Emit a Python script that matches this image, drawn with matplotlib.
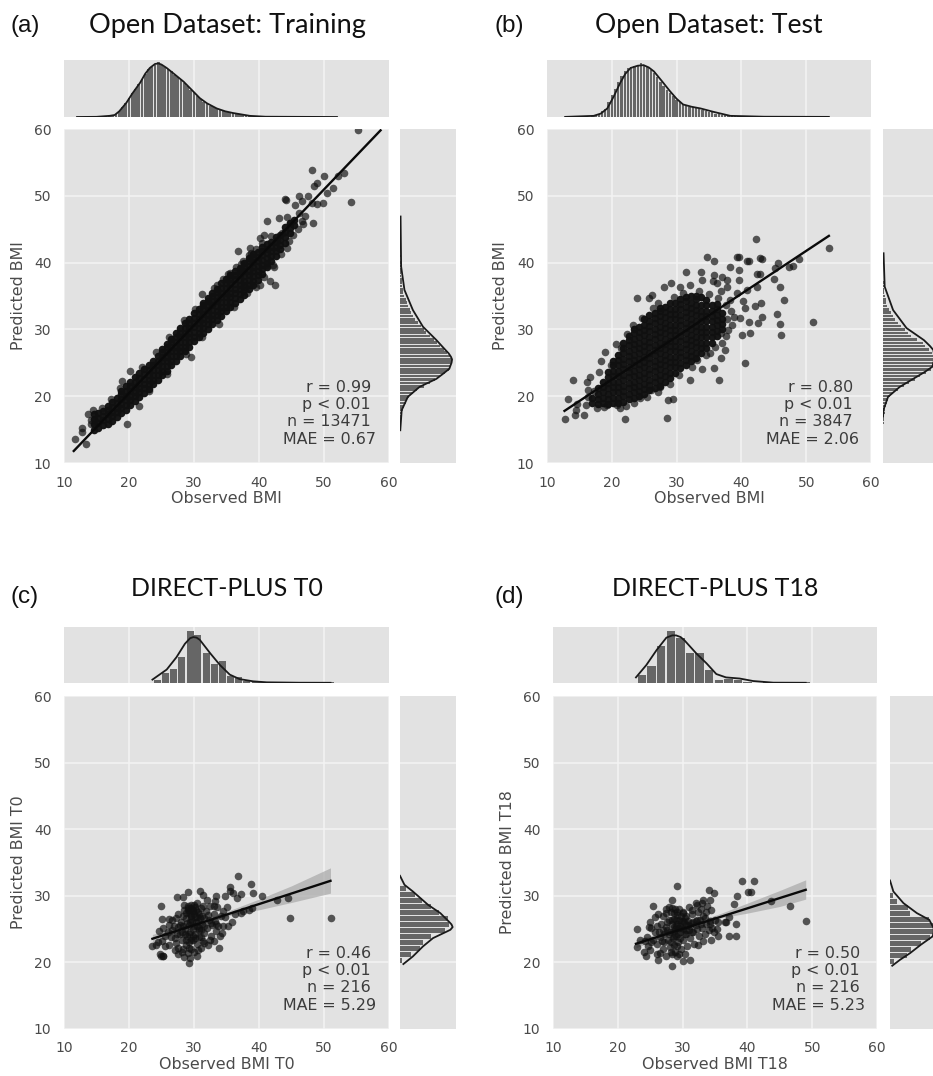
import matplotlib
matplotlib.use("Agg")
import matplotlib.pyplot as plt

plt.rcParams["font.family"] = ["DejaVu Sans"]

W, H = 933, 1076

# ---------- dense band of panel a: observed value and the predicted values stacked at it
a_x = [14.6,15.3,16.0,16.7,17.4,18.1,18.8,19.5,20.2,20.9,21.6,22.3,23.0,23.7,24.4,25.1,25.8,26.5,27.2,27.9,28.6,29.3,30.0,30.7,31.4,32.1,32.8,33.5,34.2,34.9,35.6,36.3,37.0,37.7,38.4,39.1,39.8,40.5,41.2,41.9,42.6,43.3,44.0,44.7,45.4]
a_y = [[15.0,15.8,16.6,17.4],[15.2,16,16.8,17.5],[15.7,16.4,17.1,17.8],[15.9,16.6,17.3,18,18.6],[16.3,17,17.7,18.4,19.1],[16.9,17.6,18.3,19,19.7],[17.5,18.2,18.9,19.6,20.3,20.8],[18,18.7,19.4,20.1,20.8,21.5],[18.7,19.4,20.1,20.8,21.5,22.1],[19.3,20,20.7,21.4,22.1,22.8],[19.9,20.6,21.3,22,22.7,23.4],[20.5,21.2,21.9,22.6,23.3,24],[21.1,21.8,22.5,23.2,23.9,24.6],[21.8,22.5,23.2,23.9,24.6,25.3],[22.5,23.2,23.9,24.6,25.3,26],[23.1,23.8,24.5,25.2,25.9,26.6,27],[23.8,24.5,25.2,25.9,26.6,27.3,27.8],[24.6,25.3,26,26.7,27.4,28.1,28.6],[25.3,26,26.7,27.4,28.1,28.8,29.5],[26,26.7,27.4,28.1,28.8,29.5,30.2],[26.7,27.4,28.1,28.8,29.5,30.2,30.9],[27.4,28.1,28.8,29.5,30.2,30.9,31.6],[28.2,28.9,29.6,30.3,31,31.7,32.4],[28.8,29.5,30.2,30.9,31.6,32.3,33],[29.5,30.2,30.9,31.6,32.3,33,33.6,34],[30.1,30.8,31.5,32.2,32.9,33.6,34.3,34.7],[30.8,31.5,32.2,32.9,33.6,34.3,35,35.4],[31.4,32.1,32.8,33.5,34.2,34.9,35.6,36.1],[32,32.7,33.4,34.1,34.8,35.5,36.2,36.9],[32.7,33.4,34.1,34.8,35.5,36.2,36.9,37.6],[33.4,34.1,34.8,35.5,36.2,36.9,37.6,38.2],[34,34.7,35.4,36.1,36.8,37.5,38.2,38.7],[34.6,35.3,36,36.7,37.4,38.1,38.8,39.2],[35.2,35.9,36.6,37.3,38,38.7,39.4,39.9],[36,36.7,37.4,38.1,38.8,39.5,40.2,40.7],[36.6,37.3,38,38.7,39.4,40.1,40.8,41.3],[37.4,38.1,38.8,39.5,40.2,40.9,41.6],[38.3,39,39.7,40.4,41.1,41.8,42.4],[39.3,40,40.7,41.4,42.1,42.8],[40.3,41,41.7,42.4,43.1],[41,41.7,42.4,43.1,43.8],[42,42.7,43.4,44.2],[43,43.8,44.6,45.4],[44.4,45.2,46],[45.6,46.4]]
a_outliers = [(11.7,13.6),(13.4,12.8),(12.8,15.2),(12.7,14.7),(19.7,15.8),(55.3,59.9),(48.2,53.8),(50,52.9),(54.2,49.1),(53,53.4),(52.2,52.9),(51.4,51.2),(50.4,50.4),(48.9,51.9),(48.4,51.5),(44,49.5),(44.2,49.3),(46.1,49.9),(46.6,49.2),(47.6,49.9),(48.1,48.9),(49.9,48.9),(48.9,48.8),(46.6,46.2),(46.7,45.8),(48.3,46),(41.2,46.2),(43,46.7),(44.3,46.9),(44.8,45.9),(45.3,44.1),(44.3,42.2),(41.7,37.2),(42.5,36.7),(42.3,39.4),(36.7,41.8),(37.8,36.4),(31.2,35.3),(29.5,25.8),(21.6,18.5),(20.2,23.7),(18.9,22.3),(14.5,17.9),(13.7,17.4),(43.5,44.4),(42.7,43.4),(40.7,44.2),(40.2,43.7),(38.6,42.2),(41.3,39.6),(39.6,36.4),(46.2,47.5),(45.6,48.6),(47,47),
(14.2,16.4),(14.1,15.8),(15.8,18.3),(17.3,19.6),(18.6,21.3),(22,24.3),(24.2,26.6),(26.2,28.9),(28.4,31.4),(30.2,33.1),(33.1,36.2),(35.2,38.3),(37.3,39.8),(38.7,41.4),(23.1,20.8),(25.9,23.3),(28.8,26.3),(31.2,28.8),(33.8,30.8),(36.2,33.3),(38.2,35.4),(40.1,36.7),(40.8,37.9),(42.2,39.6),(43.4,41.3),(41.8,44),(44.6,43.2),(46,45),
(33.5,36.6),(34.5,37.6),(35.5,38.4),(36.5,39.3),(37.5,40.2),(38.5,41.2),(39.5,42),(40.5,42.9)]

# ---------- dense blob of panel b
b_x = [17.0,17.8,18.6,19.4,20.2,21.0,21.8,22.6,23.4,24.2,25.0,25.8,26.6,27.4,28.2,29.0,29.8,30.6,31.4,32.2,33.0,33.8,34.6,35.4,36.2,37.0]
b_y = [[19,19.8],[18.8,19.6,20.4,21.2],[19,19.8,20.6,21.4,22.2],[18.8,19.6,20.4,21.2,22,22.8,23.6],[19,19.8,20.6,21.4,22.2,23,23.8,24.6,25.3],[19,19.8,20.6,21.4,22.2,23,23.8,24.6,25.4,26.2],[19.2,20,20.8,21.6,22.4,23.2,24,24.8,25.6,26.4,27.2,28],[19.6,20.4,21.2,22,22.8,23.6,24.4,25.2,26,26.8,27.6,28.4,29],[19.8,20.6,21.4,22.2,23,23.8,24.6,25.4,26.2,27,27.8,28.6,29.4,30],[20,20.8,21.6,22.4,23.2,24,24.8,25.6,26.4,27.2,28,28.8,29.6,30.4],[20.3,21.1,21.9,22.7,23.5,24.3,25.1,25.9,26.7,27.5,28.3,29.1,29.9,30.7,31.5],[20.9,21.7,22.5,23.3,24.1,24.9,25.7,26.5,27.3,28.1,28.9,29.7,30.5,31.3,32.1],[21.3,22.1,22.9,23.7,24.5,25.3,26.1,26.9,27.7,28.5,29.3,30.1,30.9,31.7,32.5],[21.6,22.4,23.2,24,24.8,25.6,26.4,27.2,28,28.8,29.6,30.4,31.2,32,32.8,33.2],[22.2,23,23.8,24.6,25.4,26.2,27,27.8,28.6,29.4,30.2,31,31.8,32.6,33.4],[22.7,23.5,24.3,25.1,25.9,26.7,27.5,28.3,29.1,29.9,30.7,31.5,32.3,33.1,33.9],[23.5,24.3,25.1,25.9,26.7,27.5,28.3,29.1,29.9,30.7,31.5,32.3,33.1,34],[24.2,25,25.8,26.6,27.4,28.2,29,29.8,30.6,31.4,32.2,33,33.8,34.6],[24.6,25.4,26.2,27,27.8,28.6,29.4,30.2,31,31.8,32.6,33.4,34.2,34.8],[25.2,26,26.8,27.6,28.4,29.2,30,30.8,31.6,32.4,33.2,34,35],[25.7,26.5,27.3,28.1,28.9,29.7,30.5,31.3,32.1,32.9,33.7,34.5,35],[26.4,27.2,28,28.8,29.6,30.4,31.2,32,32.8,33.6,34.8],[27.2,28,28.8,29.6,30.4,31.2,32,32.8,33.6,34.4],[28,28.8,29.6,30.4,31.2,32,32.8,33.6],[29,29.8,30.6,31.4,32.2,33,33.8],[30,30.8,31.6,32.4]]
b_outliers = [(12.8,16.6),(13.2,19.6),(14,22.4),(16.2,22.2),(16.7,22.8),(18,23.6),(18.4,25.3),(19,26.6),(20.6,27.8),(22,16.6),(28.5,16.8),(28.7,19.5),(29.4,19.6),(32,22.4),(36.5,22.4),(40.6,24.9),(33.9,24),(35.7,24.2),(36.9,25.7),(37.5,26.9),(53.5,42.2),(51,31.1),(42.2,43.6),(34.7,40.8),(35.8,40.2),(31.5,38.6),(33.8,38.6),(38.3,39.4),(39.3,40.8),(39.6,40.8),(40.9,40.2),(41.1,40.3),(43.2,40.6),(42.9,40.7),(39.7,38.9),(39.7,37.4),(42.4,38.3),(42.9,38.3),(45.7,39.9),(45.2,39.2),(47.3,39.4),(47.9,39.5),(48.9,40.5),(45,37.5),(45.9,36.3),(46.5,34.4),(45.5,32.3),(45.9,30.8),(46.1,29.2),(43.2,31.9),(42.6,30.9),(41.1,31.1),(41.3,29.4),(40.1,29.2),(43,34),(40.3,34.2),(42.1,33.5),(40.6,33.2),(40.9,35.9),(42.4,36.4),(23.9,34.7),(25.7,34.7),(26.2,35.2),(28,36.4),(29.1,36.9),(30.6,36.4),(32.1,36.6),(33.9,37.4),(35.7,38.2),(37,37.9),(37.8,37.4),(35.6,37.2),(36.2,36.9),(37.8,36.4),(39.3,35.4),(36.8,35.7),(38.3,34.4),(38.8,31.9),(39.8,31.7),(37.8,31.6),(38,29.9),(36.8,29.4),(37,27.9),(35.2,26.4),(33.1,25.4),(14.6,18.9),(14.4,17.9),(14.3,17.2),(15.7,17.2),(16,18.7),(16.3,19.9),(17.7,18.3),(19.3,18.7),(20.8,18.7),(22.2,18.5),(24.3,19.7),(25.4,19.9),(27.5,21.4),(26,20.9),
(19.8,24.6),(21.4,27.2),(22.4,29.3),(23.2,30.6),(24.6,31.7),(26.4,33.2),(27.2,33.9),(29.6,34.9),(31,35.5),(33.4,35.8),(35,35.3),(36.4,34.7),(37.6,33.6),(38.4,32.8),(38.6,30.6),(37.6,29),(36,27.4),(34.6,26.2),(32.4,24.4),(30.4,23.2),(29,21.8),(27.2,20.6),(23.4,19),(21.2,18.2),(18.8,18.4),(17.2,20.8),(16.4,21)]

# ---------- points of panels c and d
c_points = [(36.7,32.9),(38.8,31.8),(29.1,30.6),(30.9,30.65),(27.4,29.75),(28.3,29.75),(24.9,28.4),(25.1,26.5),(26.1,26.5),(39.1,30.4),(40.4,30),(35.5,31.3),(35.6,30.65),(36,30.4),(37.3,30.3),(36.6,29.65),(34.8,30),(33.4,29.9),(33.2,29.15),(31.4,30.15),(32,29.4),(42.7,29.3),(44.5,29.65),(44.8,26.7),(51,26.7),(38.9,28.15),(38.4,27.9),(37.2,27.4),(35.8,26),(33.8,22.15),(23.6,22.5),(29.3,19.9),(29.4,20.65),(30.4,20.9),(28.4,20.75),(24.9,20.9),(25.3,20.9),(24.7,21.3),(25.2,21),
(24.5,23.1),(24.6,24.7),(25.2,25.1),(25.5,24),(26,24.5),(26.1,22.6),(26.6,26.3),(27,23.6),(27,21.8),(27.3,22.9),(27.5,25.3),(27.6,27.2),(27.8,24.2),(28,26),(28.1,21.6),(28.2,23.4),(28.3,27),(28.5,28.6),(28.6,25),(28.7,22.6),(28.8,26.7),(28.9,24),(29,27.8),(29,21.4),(29.1,28.4),(29.2,25.6),(29.3,23),(29.4,27.2),(29.4,24.6),(29.5,28.1),(29.6,22),(29.7,26.2),(29.8,27.7),(29.8,25),(29.9,23.4),(30,28.6),(30,21.6),(30.1,26.8),(30.2,24.3),(30.3,27.9),(30.4,25.5),(30.5,22.8),(30.5,28.9),(30.6,26.2),(30.7,23.8),(30.8,27.2),(31,24.9),(31,22.2),(31.1,28.2),(31.2,25.8),(31.4,23.2),(31.5,26.7),(31.6,24.4),(31.8,27.7),(32,25.2),(32.1,22.6),(32.3,26.4),(32.4,28.4),(32.6,24),(32.8,25.6),(33,27.2),(33,23.2),(33.2,26.2),(33.4,24.7),(33.6,28.3),(33.7,25.5),(34,24),(34.1,26.9),(34.3,24.4),(34.5,27.7),(34.8,26.8),(35,28.3),(35.2,25.4),(36.3,27.2),(37.5,27.7),(29.6,26.9),(30.9,26.6),(29.4,26),(30.3,26),(28.4,27.9),(30,27.3),(28.6,24.2),(31.6,25.5),(32.6,25.9),(26.9,25.5),(27.9,25.6),(29.8,24),(30.7,24.8),
(29,28.2),(29.6,28.6),(30.2,28.3),(29.3,27.6),(29.9,27.9),(30.6,27.6),(28.8,27.4),(29.5,26.5),(30.4,26.8),(31.2,27),(28.9,25.9),(28.3,25.4),(30,25.4),(30.8,25.2),(29.2,24.2),(30.2,23.7),(29.6,23.3),(28.8,23.4),(31.1,23.8),(28.2,24.6),(27.4,24.3),(26.6,24.9),(26.4,23.8),(25.6,22.4),(27.6,22.2),(28.3,22),(30.6,21.8),(29.2,22.2),(31.6,22.9),(32.4,23.4),(33.4,25.8),(32.2,27.1),(31.4,28.4),(34.4,25.4),(33,28.4),(27.2,26.6),(26.2,25.6),(25,23.2),(24.2,22.6),(27.5,21.2)]
d_points = [(29.1,31.4),(39.1,32.15),(41,32.15),(34.1,30.9),(34.8,30.4),(38.4,30),(40.1,30.5),(40.6,30.55),(37.9,28.8),(43.7,29.25),(46.6,28.5),(49.1,26.25),(25.4,28.4),(28.4,29.4),(22.9,25),(22.9,22.25),(38.3,25.75),(37.2,24),(38.2,23.9),(35.5,24),(36.7,26),(34.4,27.9),(34.3,29.3),(33.1,29.4),(32.4,22.65),(34.4,23.4),(33.1,23.25),(31.2,20.4),(30.1,20.15),(28.4,19.5),(26.2,20.3),(36.5,26.1),(37.2,26.8),
(23.5,23.3),(24,21.5),(24.3,21),(24.5,23.8),(24.8,25.3),(24.9,21.8),(25,26),(25.2,25.2),(25.5,23.4),(25.8,26.8),(26,22.7),(26.2,27.3),(26.3,24.5),(26.5,21.4),(26.7,25.7),(26.8,23.2),(27,27),(27,22),(27.2,24.2),(27.4,28),(27.5,25.3),(27.5,21),(27.7,23.4),(27.9,26.4),(27.9,28.3),(28,22.3),(28.1,24.6),(28.2,27.5),(28.3,25.7),(28.4,21.2),(28.5,23.7),(28.6,26.5),(28.7,22.6),(28.8,28),(28.9,25),(29,24),(29.1,27.1),(29.1,21),(29.2,25.8),(29.3,23),(29.4,26.3),(29.5,28),(29.6,24.6),(29.7,22),(29.8,26.9),(29.9,25.2),(30,23.4),(30.1,27.6),(30.2,26),(30.3,21.2),(30.4,24.3),(30.5,25.6),(30.6,27),(30.7,22.5),(30.8,26.2),(31,24.9),(31,28.3),(31.2,23.6),(31.3,25.9),(31.5,27.2),(31.6,24.5),(31.8,22.8),(32,26.2),(32,28.9),(32.2,25),(32.4,27.6),(32.5,24),(32.7,26.3),(32.9,28),(33,25.2),(33.2,27),(33.4,24.3),(33.6,25.8),(33.8,28.4),(34,24.8),(34.2,26.2),(34.5,25.2),(35,26.3),(35.3,25),(29.6,25.5),(30,26.2),(29,25.4),(30.4,26.6),(28.7,24.7),(31.1,25.5),(27.6,24.9),(29.3,24.2),(30.6,24.9),(32.2,26.4),(26.1,25.4),(28.2,23),(28.4,28.1),
(28.6,25.3),(29.4,25.2),(30.1,25),(30.8,25.6),(31.6,26),(29.8,26.2),(29,26.4),(28.3,26.3),(27.6,26),(27.9,24.2),(28.7,24),(29.6,23.7),(30.5,24.3),(31.4,24.6),(32,25.6),(32.8,25.7),(33.4,26.7),(28.2,21.6),(28.9,21.5),(29.4,21.2),(29.1,22.4),(27.2,23),(26.5,23.8),(25.8,24.6),(25.2,23),(24.2,23.2),(24.6,22.4),(26,21.3),(26.9,24.8),(27.4,27.4),(33,28.9),(32.2,28.6),(31.4,27.8),(30,27.4),(29.2,27.6),(28.6,27.4),(33.6,27.6),(34.3,25.8),(35.4,26.1),(34.9,24.6)]

# ---------- regression lines and confidence bands
line_a_x, line_a_y = [11.5, 58.7], [11.8, 59.8]
line_b_x, line_b_y = [12.7, 53.5], [17.8, 44.0]
line_c_x, line_c_y = [23.6, 51.0], [23.55, 32.25]
line_d_x, line_d_y = [22.8, 49.0], [22.8, 30.9]
band_c_x = [23.6, 30, 36, 40, 45, 51]
band_c_lo = [22.9, 25.3, 27.2, 27.9, 29.0, 30.4]
band_c_hi = [24.2, 25.9, 28.0, 29.5, 31.5, 34.2]
band_d_x = [22.8, 30, 36, 40, 45, 49]
band_d_lo = [22.2, 24.9, 26.7, 27.4, 28.4, 29.5]
band_d_hi = [23.4, 25.4, 27.4, 28.9, 30.8, 32.4]

# ---------- marginal curves
kde_top_a_x = [12,15,17,17.8,18.5,19.6,20.5,21.7,22.5,23.2,24,24.5,25,25.8,27,28.4,29.7,30.9,32,33.5,34.8,36,38.6,41,45,52]
kde_top_a_y = [0,.003,.02,.035,.1,.25,.41,.6,.76,.86,.93,.94,.92,.86,.75,.62,.47,.33,.24,.15,.1,.07,.02,.005,.003,0]
kde_top_b_x = [12.8,17.2,18.3,19.3,20.3,21.3,22.1,22.9,24,24.9,25.7,26.5,27.8,29,30,31,32.3,33.7,35.7,38.3,43.5,53.5]
kde_top_b_y = [.002,.02,.06,.15,.36,.6,.76,.86,.9,.91,.87,.8,.62,.45,.32,.22,.18,.15,.09,.02,.005,.002]
kde_top_c_x = [23.6,25.8,27.3,28.6,29.4,29.9,30.4,30.9,31.7,32.5,34,35.5,37,39.1,41.2,46.3,51]
kde_top_c_y = [.06,.24,.46,.7,.8,.82,.81,.77,.65,.53,.32,.15,.07,.03,.012,.005,.004]
kde_top_d_x = [22.8,24.4,26,27.5,28.4,29,29.7,30.3,32.1,33.7,35.2,36.7,38.8,40.9,44,49]
kde_top_d_y = [.1,.32,.59,.81,.85,.85,.82,.76,.53,.35,.16,.1,.08,.035,.006,.004]
kde_right_a_y = [46.9,39.4,35.9,32.9,30.4,28.4,27.3,26.4,25.9,25.5,25,24.1,23.3,22.6,21.4,19.9,17.9,14.9]
kde_right_a_x = [.01,.02,.08,.23,.41,.65,.77,.87,.91,.93,.92,.88,.76,.65,.35,.14,.03,.005]
kde_right_b_y = [41.4,36.4,32.9,30.2,28.4,27.5,26.9,25.6,24.4,23.6,22.9,21.4,19.9,18,16.9]
kde_right_b_x = [.01,.03,.18,.42,.73,.84,.9,.92,.88,.74,.6,.3,.09,.01,0]
kde_right_c_y = [33,31.65,30.65,28.65,27.4,26.15,25.7,25.3,24.9,24.65,23.65,22.4,20.9,19.75]
kde_right_c_x = [0,.08,.23,.5,.72,.87,.92,.94,.9,.84,.59,.41,.23,.06]
kde_right_d_y = [32.3,30.65,28.9,27.4,26.4,25.15,24.5,23.9,22.65,21.4,20.4,19.5]
kde_right_d_x = [0,.06,.24,.48,.7,.78,.78,.76,.55,.36,.18,.04]

# ---------- marginal histograms
bins_top_ab = [17,17.5,18,18.5,19,19.5,20,20.5,21,21.5,22,22.5,23,23.5,24,24.5,25,25.5,26,26.5,27,27.5,28,28.5,29,29.5,30,30.5,31,31.5,32,32.5,33,33.5,34,34.5,35,35.5,36,36.5,37,37.5,38,38.5,39,39.5,40]
hist_top_a = [.01,.02,.05,.1,.17,.25,.33,.42,.5,.58,.66,.76,.84,.88,.92,.96,.92,.88,.85,.8,.74,.7,.66,.6,.54,.48,.43,.37,.32,.27,.23,.2,.17,.15,.13,.11,.1,.08,.07,.06,.05,.04,.03,.02,.015,.01,.01]
hist_top_b = [.02,.03,.06,.1,.14,.26,.38,.5,.62,.72,.8,.86,.88,.9,.92,.95,.91,.87,.82,.77,.7,.62,.54,.48,.42,.36,.3,.26,.22,.2,.18,.17,.15,.14,.12,.1,.09,.08,.06,.05,.04,.03,.02,.015,.01,.01,.01]
bins_right_a = [15,15.5,16,16.5,17,17.5,18,18.5,19,19.5,20,20.5,21,21.5,22,22.5,23,23.5,24,24.5,25,25.5,26,26.5,27,27.5,28,28.5,29,29.5,30,30.5,31,31.5,32,32.5,33,33.5,34,34.5,35,35.5,36,36.5,37,37.5,38,38.5,39,39.5,40,41,42,43,44]
hist_right_a = [.005,.01,.01,.015,.02,.03,.05,.07,.1,.13,.16,.23,.31,.42,.53,.63,.72,.8,.87,.9,.93,.92,.89,.84,.78,.72,.66,.6,.53,.47,.42,.37,.32,.27,.23,.2,.17,.15,.12,.1,.08,.06,.05,.04,.035,.03,.025,.02,.02,.015,.01,.01,.008,.006,.005]
hist_right_b = [.005,.005,.01,.01,.02,.03,.04,.05,.07,.09,.12,.17,.27,.37,.47,.58,.66,.76,.86,.9,.92,.93,.91,.88,.82,.75,.72,.6,.5,.44,.39,.33,.27,.22,.18,.14,.1,.08,.06,.05,.03,.02,.015,.01,.01,.005,.005,.005,.005,.005,.005,.005,.002,.002,.002]
centers_top_c = [24.4,25.6,26.9,28.1,29.4,30.6,31.9,33.1,34.4,35.6,36.9,38.1,39.4,40.6,44.4,51]
hist_top_c = [.06,.18,.25,.46,.93,.85,.54,.34,.4,.12,.1,.03,.015,.01,.01,.01]
centers_top_d = [23.74,25.22,26.7,28.18,29.66,31.14,32.62,34.1,35.58,37.06,38.54,40.02,43,49]
hist_top_d = [.15,.3,.66,.93,.8,.54,.53,.23,.05,.07,.05,.02,.01,.01]
centers_right_c = [20.3,21.2,22.1,23.0,23.9,24.8,25.7,26.6,27.5,28.4,29.3,30.2,31.1]
hist_right_c = [.03,.2,.36,.41,.55,.8,.88,.85,.7,.55,.4,.27,.1]
centers_right_d = [20.1,21.0,21.9,22.8,23.7,24.6,25.5,26.4,27.3,28.2,29.1,30.0]
hist_right_d = [.07,.3,.38,.55,.72,.77,.78,.7,.36,.33,.12,.05]

ticks = [10, 20, 30, 40, 50, 60]
GREY, TXT, DOT = "#e2e2e2", "#4a4a4a", "#101010"
BAR = "#666666"

fig = plt.figure(figsize=(W/100, H/100), dpi=100, facecolor="white")

def box(x0, y0, x1, y1):
    return fig.add_axes([x0/W, 1-y1/H, (x1-x0)/W, (y1-y0)/H], facecolor=GREY)

def clean(ax):
    for s in ax.spines.values():
        s.set_visible(False)
    ax.set_axisbelow(True)
    ax.grid(True, color="#f3f3f3", lw=1.1)
    ax.tick_params(length=0)

def text(x, y, s, **kw):
    fig.text(x/W, 1-y/H, s, **kw)

def unpack(xs, ys):
    ox, oy = [], []
    for x, col in zip(xs, ys):
        for y in col:
            ox.append(x); oy.append(y)
    return ox, oy

def ann_y(jy1):
    return [jy1-76, jy1-58, jy1-41, jy1-23]

def panel(jx0, jx1, jy0, jy1, ty0, ty1, rx0, core, pts, line, band, top, right, bar_top, bar_right, xl, yl, ylx, ann, ann_r):
    ax = box(jx0, jy0, jx1, jy1)
    clean(ax)
    ax.set_xlim(10, 60); ax.set_ylim(10, 60)
    ax.set_xticks(ticks); ax.set_yticks(ticks)
    ax.tick_params(labelsize=10, labelcolor=TXT, pad=9)
    if band:
        ax.fill_between(band[0], band[1], band[2], color="#a8a8a8", alpha=0.7, lw=0, zorder=2.5)
    if core:
        ax.scatter(core[0], core[1], s=30, color=DOT, alpha=0.97, linewidths=0, zorder=3)
    ax.scatter(pts[0], pts[1], s=30, color=DOT, alpha=0.68, linewidths=0, zorder=3)
    ax.plot(line[0], line[1], color="#0a0a0a", lw=1.7, zorder=4)
    text((jx0+jx1)/2, jy1+35.5, xl, ha="center", va="center", fontsize=11.4, color=TXT)
    text(ylx, (jy0+jy1)/2, yl, ha="center", va="center", rotation=90, fontsize=11.4, color=TXT)
    for s, r, yy in zip(ann, ann_r, ann_y(jy1)):
        text(r, yy, s, ha="right", va="center", fontsize=11.4, color="#3c3c3c")

    at = box(jx0, ty0, jx1, ty1)
    clean(at)
    at.set_xlim(10, 60); at.set_ylim(0, 1)
    at.set_xticks(ticks[1:-1]); at.set_yticks([])
    at.tick_params(labelbottom=False)
    at.bar(bar_top[0], bar_top[1], width=bar_top[2], color=BAR, lw=0, zorder=2)
    at.plot(top[0], top[1], color="#1a1a1a", lw=1.3, zorder=3)

    ar = box(rx0, jy0, rx0+56, jy1)
    clean(ar)
    ar.set_ylim(10, 60); ar.set_xlim(0, 1)
    ar.set_yticks(ticks[1:-1]); ar.set_xticks([])
    ar.tick_params(labelleft=False)
    ar.barh(bar_right[0], bar_right[1], height=bar_right[2], color=BAR, lw=0, zorder=2)
    ar.plot(right[0], right[1], color="#1a1a1a", lw=1.3, zorder=3)

panel(64, 389, 129, 463, 60, 117, 400, unpack(a_x, a_y), list(zip(*a_outliers)), (line_a_x, line_a_y), None,
      (kde_top_a_x, kde_top_a_y), (kde_right_a_x, kde_right_a_y),
      (bins_top_ab, hist_top_a, 0.42), (bins_right_a, hist_right_a, 0.4),
      "Observed BMI", "Predicted BMI", 19,
      ["r = 0.99", "p < 0.01", "n = 13471", "MAE = 0.67"], [371, 371, 371, 376])
panel(547, 871, 129, 463, 60, 117, 883, unpack(b_x, b_y), list(zip(*b_outliers)), (line_b_x, line_b_y), None,
      (kde_top_b_x, kde_top_b_y), (kde_right_b_x, kde_right_b_y),
      (bins_top_ab, hist_top_b, 0.36), (bins_right_a, hist_right_b, 0.36),
      "Observed BMI", "Predicted BMI", 501,
      ["r = 0.80", "p < 0.01", "n = 3847", "MAE = 2.06"], [853, 853, 853, 859])
panel(64, 389, 696, 1029, 627, 683, 400, None, list(zip(*c_points)), (line_c_x, line_c_y), (band_c_x, band_c_lo, band_c_hi),
      (kde_top_c_x, kde_top_c_y), (kde_right_c_x, kde_right_c_y),
      (centers_top_c, hist_top_c, 1.05), (centers_right_c, hist_right_c, 0.72),
      "Observed BMI T0", "Predicted BMI T0", 19,
      ["r = 0.46", "p < 0.01", "n = 216", "MAE = 5.29"], [371, 371, 371, 376])
panel(553, 877, 696, 1029, 627, 683, 890, None, list(zip(*d_points)), (line_d_x, line_d_y), (band_d_x, band_d_lo, band_d_hi),
      (kde_top_d_x, kde_top_d_y), (kde_right_d_x, kde_right_d_y),
      (centers_top_d, hist_top_d, 1.3), (centers_right_d, hist_right_d, 0.72),
      "Observed BMI T18", "Predicted BMI T18", 508,
      ["r = 0.50", "p < 0.01", "n = 216", "MAE = 5.23"], [860, 860, 860, 865])

for s, x, y in [("(a)", 10, 26), ("(b)", 495, 26), ("(c)", 10, 597), ("(d)", 495, 597)]:
    text(x, y, s, ha="left", va="center", fontsize=17.5, family="Liberation Sans", color="#111111")
for s, x, y, fs in [("Open Dataset: Training", 227, 25, 19.5), ("Open Dataset: Test", 709, 25, 19.2),
                    ("DIRECT-PLUS T0", 227, 589, 18), ("DIRECT-PLUS T18", 715, 589, 18)]:
    text(x, y, s, ha="center", va="center", fontsize=fs, family="Lato", color="#111111")

fig.savefig("out.png", dpi=100, facecolor="white")
